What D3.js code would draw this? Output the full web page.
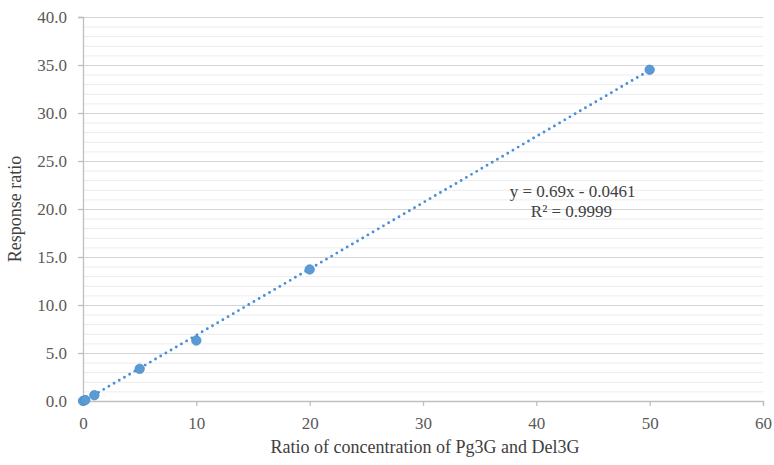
<!DOCTYPE html>
<html>
<head>
<meta charset="utf-8">
<script src="https://cdn.jsdelivr.net/npm/d3@7"></script>
<style>
  body { margin: 0; background: #fff; }
</style>
</head>
<body>
<div id="chart"></div>
<script>
// ratio of concentration (x) vs response ratio (y)
var xValues = [0, 0.2, 1, 5, 10, 20, 50];
var yValues = [0.0, 0.1, 0.6, 3.35, 6.3, 13.7, 34.5];
var xTicks = [0, 10, 20, 30, 40, 50, 60];
var yTicks = [0, 5, 10, 15, 20, 25, 30, 35, 40];
var trendSlope = 0.69;
var trendIntercept = -0.0461;
var equationLines = ["y = 0.69x - 0.0461", "R\u00b2 = 0.9999"];

var FONT = "Liberation Serif";
var width = 774, height = 465;
var margin = { top: 17, right: 11, bottom: 64, left: 83 };
var innerW = width - margin.left - margin.right;
var innerH = height - margin.top - margin.bottom;

var svg = d3.select("#chart").append("svg")
  .attr("width", width)
  .attr("height", height);

var g = svg.append("g")
  .attr("transform", "translate(" + margin.left + "," + margin.top + ")");

var x = d3.scaleLinear().domain([0, 60]).range([0, innerW]);
var y = d3.scaleLinear().domain([0, 40]).range([innerH, 0]);

// minor gridlines every 1.0
g.append("g").selectAll("line")
  .data(d3.range(1, 40).filter(function (d) { return d % 5 != 0; }))
  .enter().append("line")
  .attr("x1", 0).attr("x2", innerW)
  .attr("y1", function (d) { return y(d) + 0.5; })
  .attr("y2", function (d) { return y(d) + 0.5; })
  .attr("stroke", "#ececec")
  .attr("stroke-width", 1);

// major gridlines
g.append("g").selectAll("line")
  .data(yTicks.filter(function (d) { return d > 0; }))
  .enter().append("line")
  .attr("x1", 0).attr("x2", innerW)
  .attr("y1", function (d) { return y(d) + 0.5; })
  .attr("y2", function (d) { return y(d) + 0.5; })
  .attr("stroke", "#d4d4d4")
  .attr("stroke-width", 1);

// axes
var xAxis = g.append("g")
  .attr("transform", "translate(0," + innerH + ")")
  .call(d3.axisBottom(x).tickValues(xTicks).tickSize(5).tickPadding(11).tickFormat(d3.format("d")));

var yAxis = g.append("g")
  .call(d3.axisLeft(y).tickValues(yTicks).tickSize(5).tickPadding(11).tickFormat(d3.format(".1f")));

[xAxis, yAxis].forEach(function (ax) {
  ax.attr("font-family", FONT).attr("font-size", 17);
  ax.select(".domain").attr("stroke", "#bfbfbf").attr("stroke-width", 1.3);
  ax.selectAll(".tick line").attr("stroke", "#bfbfbf").attr("stroke-width", 1.3);
  ax.selectAll(".tick text")
    .attr("fill", "#595959")
    .attr("font-family", FONT)
    .style("font-family", FONT)
    .attr("font-size", 17);
});

// dotted linear trendline
g.append("line")
  .attr("x1", x(0))
  .attr("y1", y(trendIntercept))
  .attr("x2", x(50))
  .attr("y2", y(trendSlope * 50 + trendIntercept))
  .attr("stroke", "#4a8fd8")
  .attr("stroke-width", 2.9)
  .attr("stroke-linecap", "round")
  .attr("stroke-dasharray", "0 6");

// markers
g.append("g").selectAll("circle")
  .data(xValues)
  .enter().append("circle")
  .attr("cx", function (d) { return x(d); })
  .attr("cy", function (d, i) { return y(yValues[i]); })
  .attr("r", 4.7)
  .attr("fill", "#5b9bd5")
  .attr("stroke", "#4a8ccc")
  .attr("stroke-width", 0.8);

// equation label
var eq = g.append("text")
  .attr("font-family", FONT)
  .attr("font-size", 17)
  .attr("fill", "#404040")
  .attr("text-anchor", "middle");
eq.append("tspan").attr("x", x(43.2)).attr("y", 180).text(equationLines[0]);
eq.append("tspan").attr("x", x(43.1)).attr("y", 200).text(equationLines[1]);

// axis titles
svg.append("text")
  .attr("x", margin.left + innerW / 2 + 2)
  .attr("y", 453)
  .attr("text-anchor", "middle")
  .attr("font-family", FONT)
  .attr("font-size", 18)
  .attr("fill", "#404040")
  .text("Ratio of concentration of Pg3G and Del3G");

svg.append("text")
  .attr("transform", "translate(21," + (margin.top + innerH / 2) + ") rotate(-90)")
  .attr("text-anchor", "middle")
  .attr("font-family", FONT)
  .attr("font-size", 18)
  .attr("fill", "#404040")
  .text("Response ratio");
</script>
</body>
</html>
